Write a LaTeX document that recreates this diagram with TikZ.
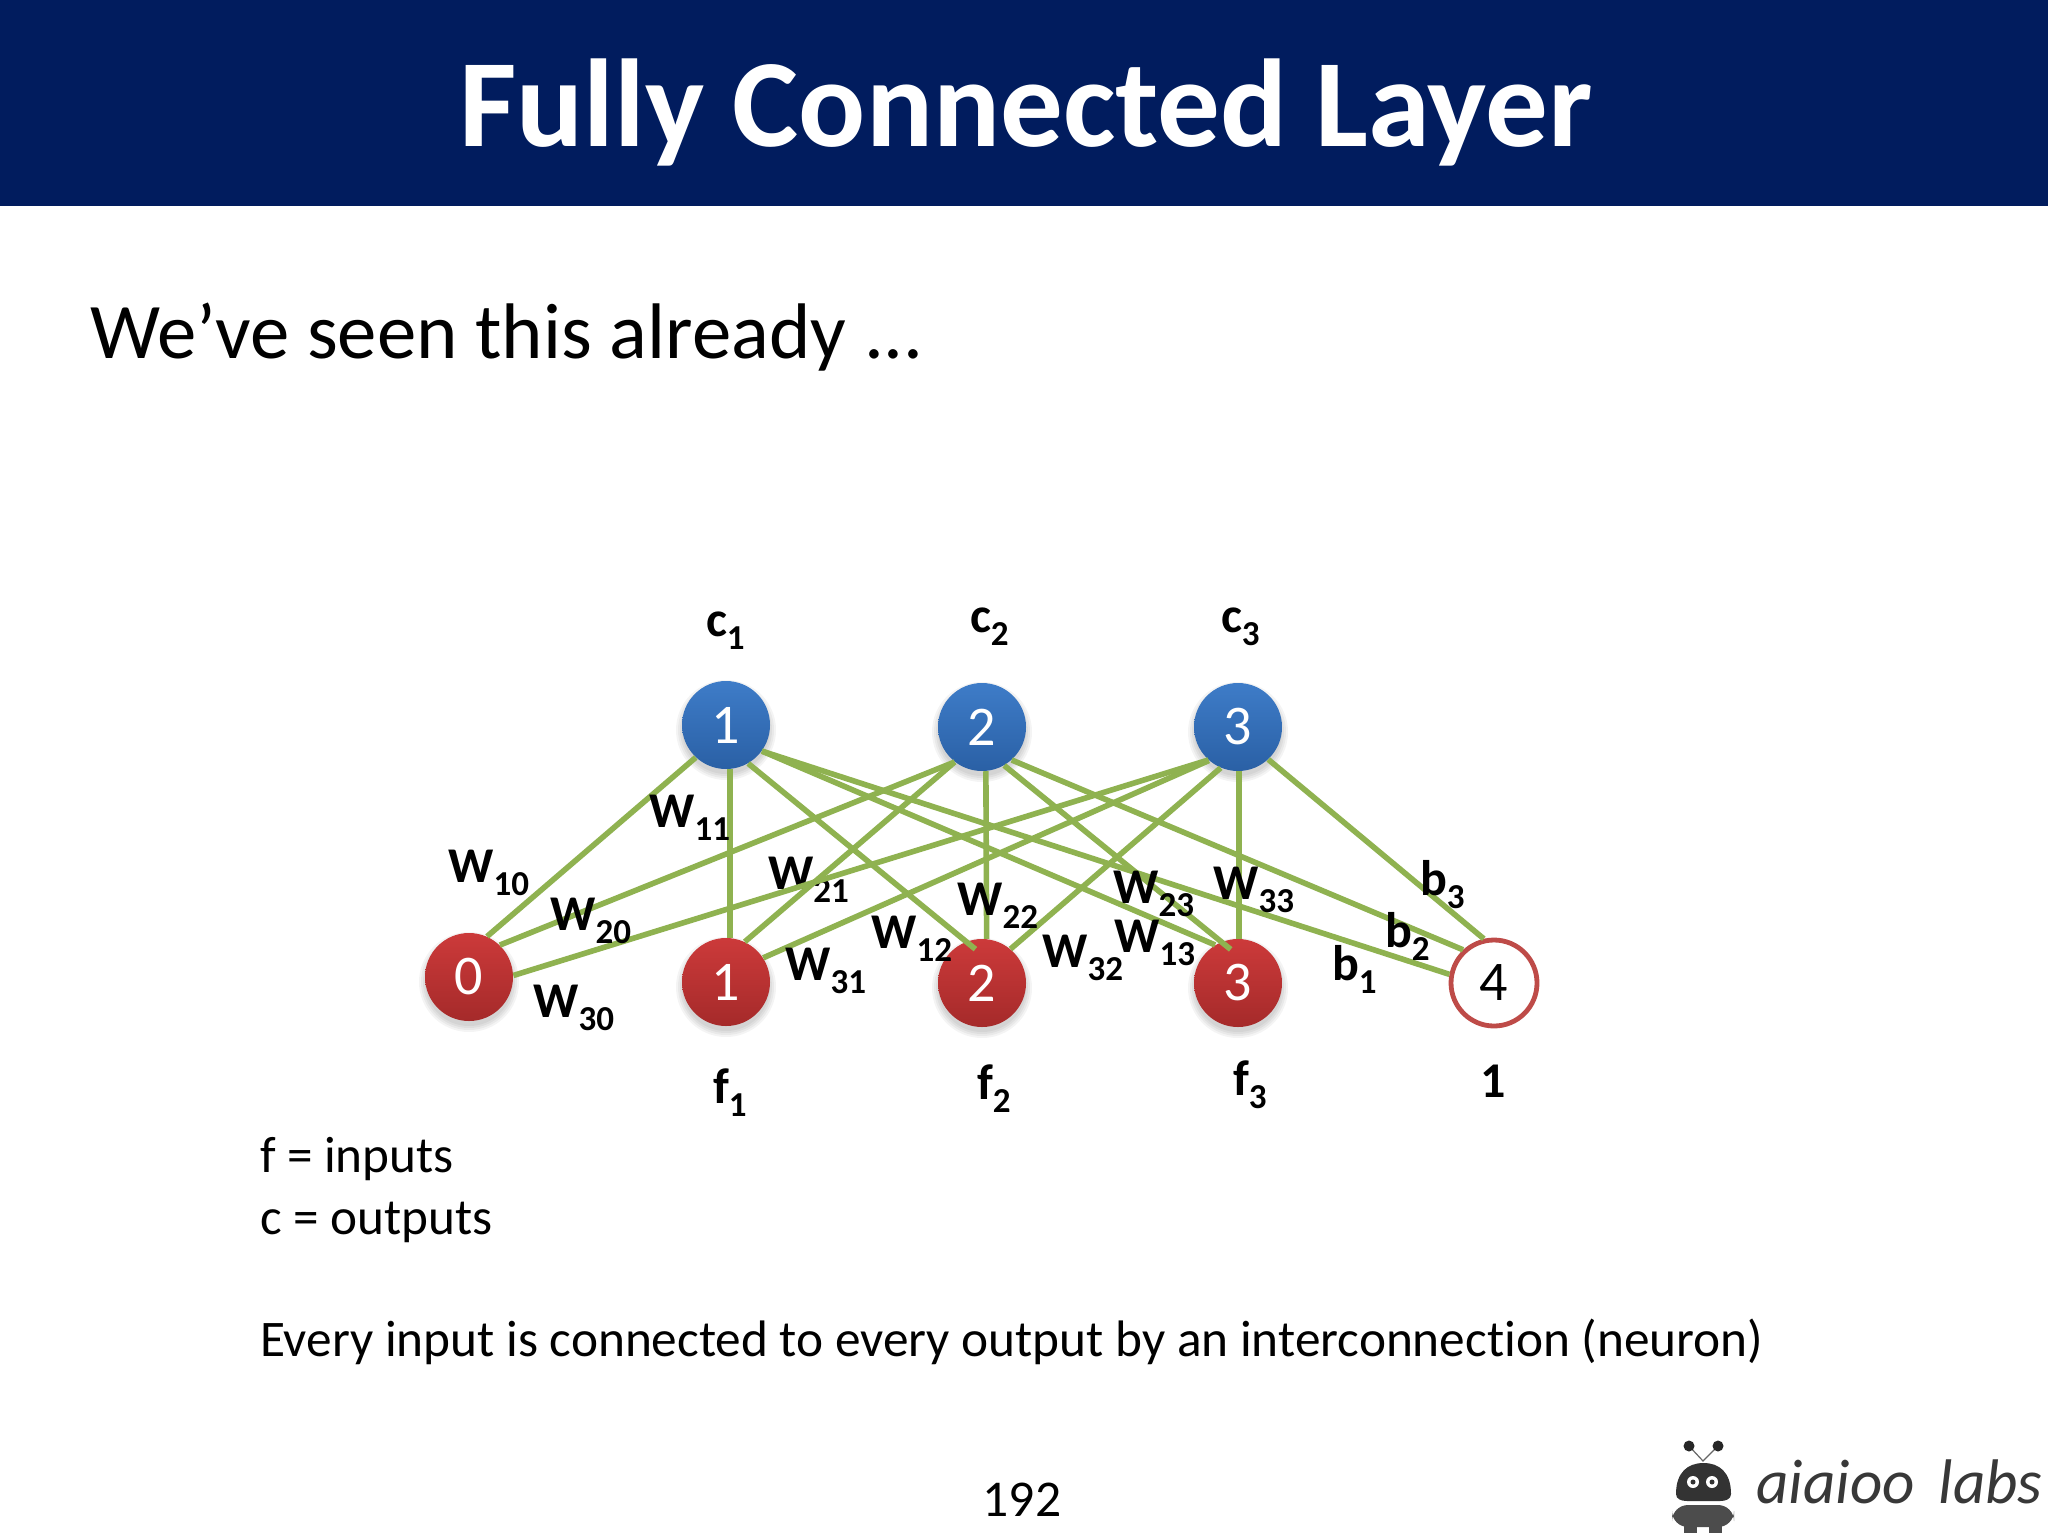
\documentclass[tikz,border=0pt]{standalone}
\usepackage{fontspec}
\setmainfont{Carlito}[Ligatures=NoCommon]
\definecolor{banner}{HTML}{011C5E}
\definecolor{wire}{HTML}{8FB250}
\definecolor{ringred}{HTML}{BE4B48}
\newcommand{\lblsub}[2]{\fontsize{25}{25}\selectfont\bfseries #1\hspace{0.2pt}\raisebox{-6.5pt}{\fontsize{17.5}{17.5}\selectfont #2}}
\newcommand{\lblsmall}[2]{\fontsize{25}{25}\selectfont\bfseries #1\hspace{0pt}\raisebox{-6.5pt}{\fontsize{17.5}{17.5}\selectfont #2}}
\tikzset{
  neuron/.style={circle,minimum size=44pt,inner sep=0pt,text=white,font=\fontsize{28}{28}\selectfont},
  outn/.style={neuron,top color={rgb,255:red,62;green,124;blue,200},bottom color={rgb,255:red,42;green,96;blue,165}},
  inn/.style={neuron,top color={rgb,255:red,204;green,58;blue,58},bottom color={rgb,255:red,165;green,42;blue,42}},
  bias/.style={circle,minimum size=43pt,inner sep=0pt,draw=ringred,line width=2.4pt,fill=white,font=\fontsize{28}{28}\selectfont},
  wirel/.style={draw=wire,line width=2.8pt},
  lab/.style={anchor=base west,inner sep=0pt,outer sep=0pt,text=black},
  body/.style={anchor=base west,inner sep=0pt,outer sep=0pt,text=black},
  softsh/.style={fill=black,opacity=.045}
}
\begin{document}
\begin{tikzpicture}[x=0.5pt,y=-0.5pt]
\useasboundingbox (0,0) rectangle (2048,1536);
\fill[white] (0,0) rectangle (2048,1536);
\fill[banner] (0,0) rectangle (2048,206);
\node[anchor=base,inner sep=0pt,text=white,font=\fontsize{62.5}{62.5}\selectfont\bfseries] (title) at (1026,147) {Fully Connected Layer};
\node[body,font=\fontsize{39.4}{39.4}\selectfont] (intro) at (90,358) {We’ve seen this already ...};
\node[body,font=\fontsize{25.6}{25.6}\selectfont] (finp) at (260,1172) {f = inputs};
\node[body,font=\fontsize{25.6}{25.6}\selectfont] (coutp) at (260,1234) {c = outputs};
\node[body,font=\fontsize{25.65}{25.65}\selectfont] (every) at (260,1356) {Every input is connected to every output by an interconnection (neuron)};
\node[anchor=base,inner sep=0pt,font=\fontsize{25.8}{25.8}\selectfont] (page) at (1022,1516) {192};

% soft shadows
\foreach \sx/\sy in {726/725,982/727,1238/727,469/977,726/982,982/983,1238/983}{
  \foreach \sr in {50,48,46,44}{
    \fill[softsh] (\sx,\sy+5) circle[radius=\sr];
  }
}

% neurons
\node[outn] (c1) at (726,725) {1};
\node[outn] (c2) at (982,727) {2};
\node[outn] (c3) at (1238,727) {3};
\node[inn] (f0) at (469,977) {0};
\node[inn] (f1) at (726,982) {1};
\node[inn] (f2) at (982,983) {2};
\node[inn] (f3) at (1238,983) {3};
\node[bias] (b4) at (1494,983) {4};

\node[lab] (w21) at (768,889) {\lblsmall{W}{21}};

% connections
\draw[wirel] (c1.227) -- (f0.66);
\draw[wirel] (c1.-85) -- (f1.85);
\draw[wirel,shorten >=-6pt] (c1.-60) -- (f2.111);
\draw[wirel] (c1.-36) -- (f3.121);
\draw[wirel] (c1.-36) -- (b4.169);
\draw[wirel] (c2.232) -- (f0.46);
\draw[wirel] (c2.232) -- (f1.65);
\draw[wirel] (c2.-85) -- (f2.84);
\draw[wirel,shorten >=-6pt] (c2.-60) -- (f3.112);
\draw[wirel] (c2.-48) -- (b4.133);
\draw[wirel] (c3.228) -- (f0.2);
\draw[wirel] (c3.229) -- (f1.33);
\draw[wirel] (c3.247) -- (f2.50);
\draw[wirel] (c3.-89) -- (f3.89);
\draw[wirel] (c3.-47) -- (b4.103);

% labels
\node[lab] (lc1) at (706,636) {\lblsmall{c}{1}};
\node[lab] (lc2) at (970,632) {\lblsmall{c}{2}};
\node[lab] (lc3) at (1221,632) {\lblsmall{c}{3}};
\node[lab] (w10) at (448,882) {\lblsub{W}{10}};
\node[lab] (w11) at (649,827) {\lblsub{W}{11}};
\node[lab] (w20) at (550,930) {\lblsub{W}{20}};
\node[lab] (w30) at (533,1017) {\lblsub{W}{30}};
\node[lab] (w31) at (785,980) {\lblsub{W}{31}};
\node[lab] (w12) at (871,948) {\lblsub{W}{12}};
\node[lab] (w22) at (957,915) {\lblsub{W}{22}};
\node[lab] (w32) at (1042,967) {\lblsub{W}{32}};
\node[lab] (w23) at (1113,903) {\lblsub{W}{23}};
\node[lab] (w13) at (1114,952) {\lblsub{W}{13}};
\node[lab] (w33) at (1213,899) {\lblsub{W}{33}};
\node[lab] (lb3) at (1420,895) {\lblsmall{b}{3}};
\node[lab] (lb2) at (1385,947) {\lblsmall{b}{2}};
\node[lab] (lb1) at (1332,980) {\lblsmall{b}{1}};
\node[lab] (lf1) at (713,1103) {\lblsmall{f}{1}};
\node[lab] (lf2) at (977,1099) {\lblsmall{f}{2}};
\node[lab] (lf3) at (1233,1095) {\lblsmall{f}{3}};
\node[lab,font=\fontsize{25}{25}\selectfont\bfseries] (lone) at (1480,1097) {1};

% logo
\draw[gray!80!black,line width=0.6pt] (1689,1446) -- (1703,1461) -- (1718,1446);
\fill[black!85] (1689,1446) circle[radius=5.5];
\fill[black!85] (1718,1446) circle[radius=5.5];
\fill[black!80] (1676,1494) .. controls (1676,1472) and (1688,1463) .. (1703.5,1463) .. controls (1719,1463) and (1731,1472) .. (1731,1494) .. controls (1731,1499) and (1726,1501) .. (1720,1501) -- (1687,1501) .. controls (1681,1501) and (1676,1499) .. (1676,1494) -- cycle;
\foreach \ex in {1693,1712}{
  \fill[white] (\ex,1482) circle[radius=6];
  \fill[black!80] (\ex,1482) circle[radius=2.5];
}
\fill[black!70,rounded corners=8pt] (1672,1505) rectangle (1734,1527);
\fill[black!70] (1684,1524) rectangle (1697,1533);
\fill[black!70] (1709,1524) rectangle (1722,1533);
\node[anchor=base west,inner sep=0pt,text=black!78,font=\fontsize{31.5}{31.5}\selectfont\itshape] (logotext) at (1756,1503) {aiaioo\hspace{12pt}labs};
\end{tikzpicture}
\end{document}
